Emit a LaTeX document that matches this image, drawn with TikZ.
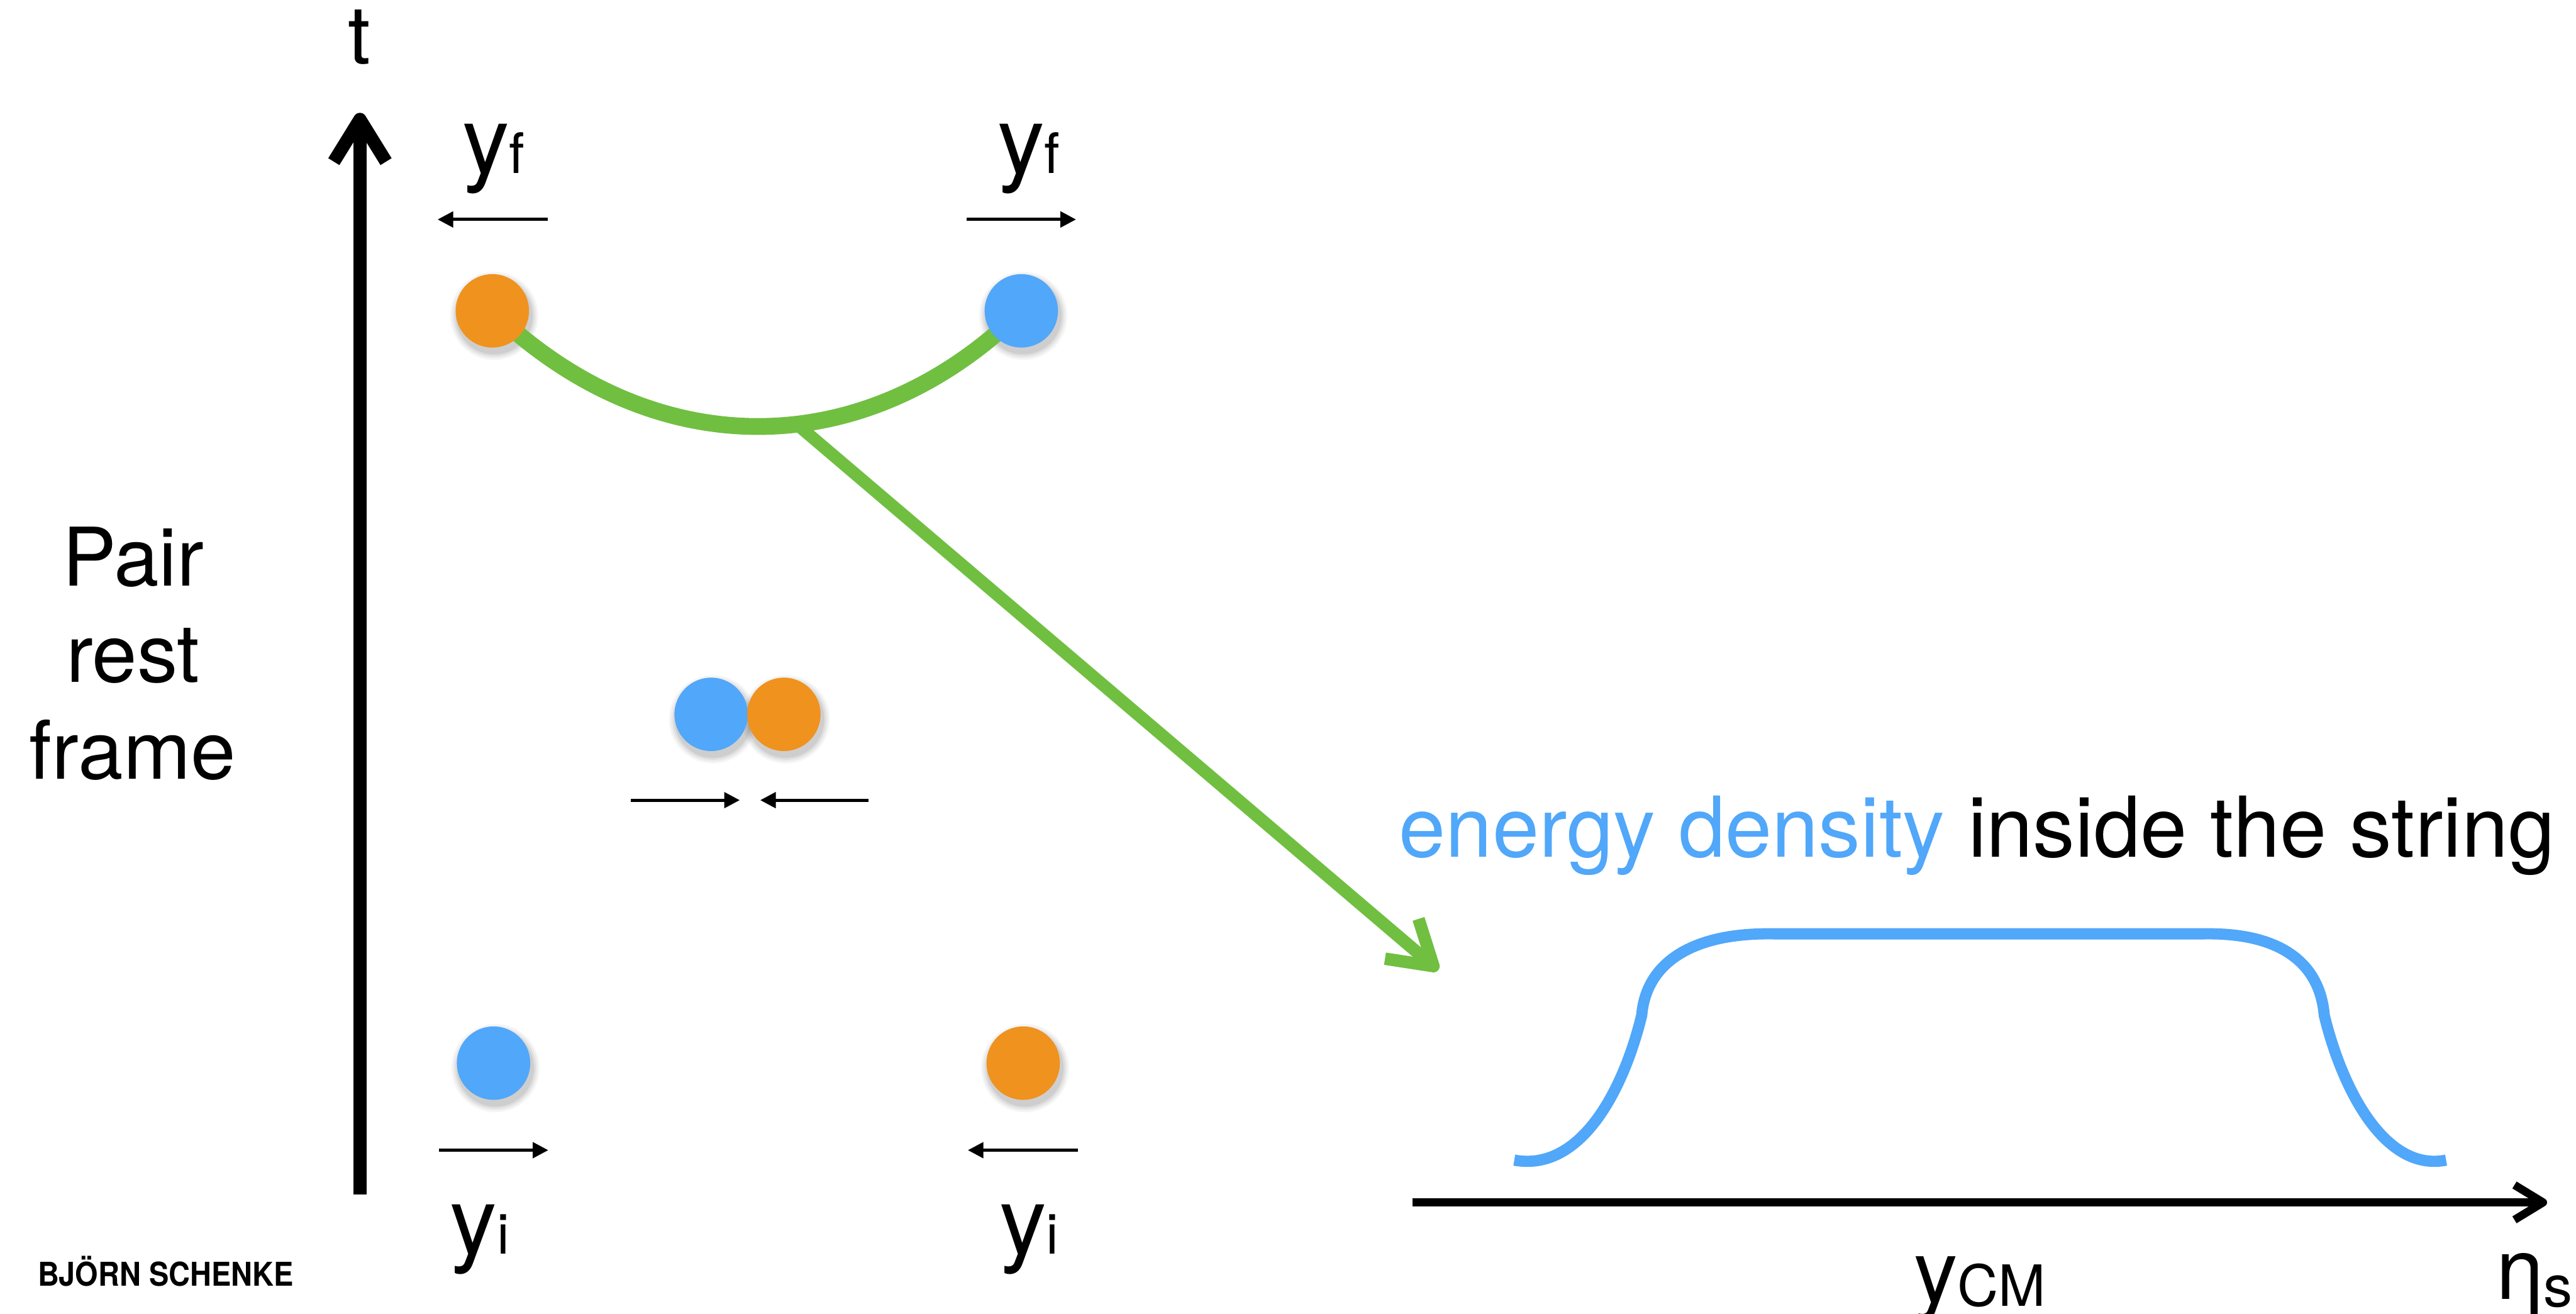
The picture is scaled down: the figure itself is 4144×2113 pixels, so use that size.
\documentclass[tikz,border=0pt]{standalone}
\usepackage{fontspec}
\setmainfont{TeX Gyre Heros}
\usetikzlibrary{arrows.meta,calc}
\pgfdeclarelayer{background}
\pgfsetlayers{background,main}
\definecolor{blueC}{HTML}{51A7F9}
\definecolor{orangeC}{HTML}{F0921E}
\definecolor{greenC}{HTML}{70BF41}
\newcommand{\fsz}[1]{\fontsize{#1}{#1}\selectfont}
\newcommand{\dotshade}[1]{%
  \foreach \rr/\oo in {0.71cm/0.035,0.68cm/0.045,0.65cm/0.055,0.62cm/0.07}{%
    \fill[black, opacity=\oo] ($(#1)+(3,8)$) circle[radius=\rr];}}
\begin{document}
\begin{tikzpicture}[x=0.01cm, y=-0.01cm,
  dot/.style={circle, inner sep=0pt, minimum size=1.18cm, draw=none},
  smallarr/.style={line width=0.05cm, -{Triangle[length=0.25cm,width=0.25cm]}},
  axisv/.style={line width=0.21cm, line join=round},
  axish/.style={line width=0.13cm, line join=round},
  stringline/.style={greenC, line width=0.27cm},
  greenarr/.style={greenC, line width=0.2cm, line join=round},
  density/.style={blueC, line width=0.18cm},
  lab/.style={inner sep=0pt, anchor=base west}]
\useasboundingbox (0,0) rectangle (4144,2113);

% vertical time axis
\coordinate (vbot) at (579,1921);
\coordinate (vtip) at (579,192);
\draw[axisv] (vbot) -- (vtip);
\draw[axisv] ($(vtip)+(-42,68)$) -- (vtip) -- ($(vtip)+(42,68)$);
\node[inner sep=0pt, anchor=base] (tlab) at (578,103) {\fsz{37}t};

% dots
\node[dot, fill=orangeC] (tl) at (792,500) {};
\node[dot, fill=blueC] (tr) at (1643,500) {};
\node[dot, fill=blueC] (ml) at (1144,1149) {};
\node[dot, fill=orangeC] (mr) at (1261,1149) {};
\node[dot, fill=blueC] (bl) at (794,1710) {};
\node[dot, fill=orangeC] (br) at (1646,1710) {};

\begin{pgfonlayer}{background}
  \dotshade{tl}\dotshade{tr}\dotshade{ml}\dotshade{mr}\dotshade{bl}\dotshade{br}
  % green string between final particles
  \draw[stringline] (tl.center) .. controls (1050,748) and (1390,748) .. (tr.center)
     coordinate[pos=0.57] (smid);
  % green arrow to the energy density
  \coordinate (gtip) at (2306,1554);
  \draw[greenarr] (smid) -- (gtip);
  \draw[greenarr] ($(gtip)+(-24,-76)$) -- (gtip) -- ($(gtip)+(-78,-12)$);
\end{pgfonlayer}

% small velocity arrows
\draw[smallarr] (881,353) -- (704,353);
\draw[smallarr] (1555,353) -- (1731,353);
\draw[smallarr] (1015,1287) -- (1190,1287);
\draw[smallarr] (1397,1287) -- (1223,1287);
\draw[smallarr] (706,1850) -- (882,1850);
\draw[smallarr] (1734,1850) -- (1557,1850);

% rapidity labels
\node[lab] (yf1) at (743,279) {\fsz{43}y\fsz{25.5}f};
\node[lab] (yf2) at (1604,279) {\fsz{43}y\fsz{25.5}f};
\node[lab] (yi1) at (723,2017) {\fsz{43}y\fsz{25.5}i};
\node[lab] (yi2) at (1607,2017) {\fsz{43}y\fsz{25.5}i};

% frame label
\node[inner sep=0pt, anchor=base] (pair1) at (214,942) {\fsz{37}Pair};
\node[inner sep=0pt, anchor=base] (pair2) at (214,1097) {\fsz{37}rest};
\node[inner sep=0pt, anchor=base] (pair3) at (213,1253) {\fsz{37}frame};

% author
\node[lab] (author) at (60,2068) {\scalebox{0.9}[1]{\bfseries\fsz{15}BJÖRN SCHENKE}};

% horizontal eta axis
\coordinate (hl) at (2272,1934);
\coordinate (htip) at (4091,1934);
\draw[axish] (hl) -- (htip);
\draw[axish] ($(htip)+(-46,-28)$) -- (htip) -- ($(htip)+(-46,28)$);

% energy density curve
\draw[density] (2436,1866) .. controls (2540,1885) and (2610,1760) .. (2641,1633)
  .. controls (2648,1550) and (2720,1500) .. (2852,1502) -- (3546,1502)
  .. controls (3670,1500) and (3732,1550) .. (3739,1633)
  .. controls (3770,1760) and (3840,1885) .. (3935,1866);

\node[lab] (title) at (2250,1378) {\fsz{38.4}\textcolor{blueC}{energy density} inside the string};
\node[lab] (ycm) at (3078,2095) {\fsz{40}y\raisebox{-0.06cm}{\fsz{26}CM}};
\node[lab] (etas) at (4015,2090) {\fsz{39}η\raisebox{-0.12cm}{\fsz{26.5}s}};
\end{tikzpicture}
\end{document}
